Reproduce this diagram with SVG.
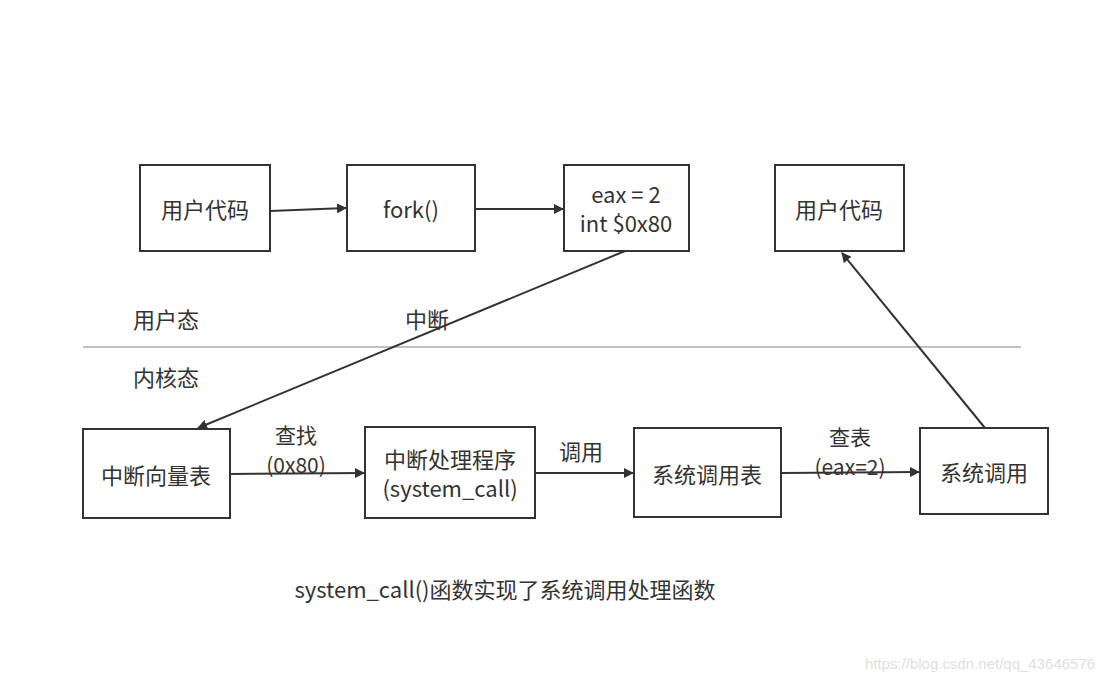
<svg xmlns="http://www.w3.org/2000/svg" width="1111" height="682" viewBox="0 0 1111 682">
<style>
.box{fill:#fff;stroke:#333;stroke-width:2}
.t{font-family:"Noto Sans CJK SC","Liberation Sans",sans-serif;font-size:22px;fill:#333;text-anchor:middle;dominant-baseline:central}
.s{font-size:21px}
.c{stroke:#333;stroke-width:2;fill:none;marker-end:url(#ah)}
</style>
<defs>
<marker id="ah" viewBox="0 0 10 10" refX="9" refY="5" markerWidth="5" markerHeight="5" orient="auto" markerUnits="strokeWidth">
<path d="M0,0 L10,5 L0,10 Z" fill="#333"/>
</marker>
</defs>
<rect width="1111" height="682" fill="#fff"/>
<line x1="83" y1="347" x2="1021" y2="347" stroke="#c0c0c0" stroke-width="2"/>
<g id="connectors">
<line class="c" x1="270" y1="211" x2="346" y2="208"/>
<line class="c" x1="475" y1="209" x2="563" y2="209"/>
<line class="c" x1="625" y1="251" x2="198" y2="428"/>
<line class="c" x1="230" y1="474" x2="364" y2="473"/>
<line class="c" x1="535" y1="473" x2="633" y2="473"/>
<line class="c" x1="781" y1="473" x2="919" y2="472"/>
<line class="c" x1="985" y1="428" x2="842" y2="253"/>
</g>
<g id="n1"><rect class="box" x="140" y="165" width="130" height="86"/><text class="t" x="205" y="208">用户代码</text></g>
<g id="n2"><rect class="box" x="347" y="165" width="128" height="86"/><text class="t" x="411" y="208">fork()</text></g>
<g id="n3"><rect class="box" x="564" y="165" width="125" height="86"/><text class="t" x="626" y="193">eax = 2</text><text class="t" x="626" y="222">int $0x80</text></g>
<g id="n4"><rect class="box" x="775" y="165" width="129" height="86"/><text class="t" x="839" y="208">用户代码</text></g>
<g id="n5"><rect class="box" x="83" y="429" width="147" height="89"/><text class="t" x="156" y="474">中断向量表</text></g>
<g id="n6"><rect class="box" x="365" y="427" width="170" height="91"/><text class="t" x="450" y="458">中断处理程序</text><text class="t" x="450" y="487">(system_call)</text></g>
<g id="n7"><rect class="box" x="634" y="428" width="147" height="89"/><text class="t" x="707" y="473">系统调用表</text></g>
<g id="n8"><rect class="box" x="920" y="428" width="128" height="86"/><text class="t" x="984" y="471">系统调用</text></g>
<g id="labels">
<text class="t" x="166" y="318">用户态</text>
<text class="t" x="427" y="318">中断</text>
<text class="t" x="166" y="376">内核态</text>
<text class="t s" x="296" y="434">查找</text>
<text class="t s" x="296" y="464">(0x80)</text>
<text class="t" x="581" y="450">调用</text>
<text class="t s" x="850" y="436">查表</text>
<text class="t s" x="850" y="466">(eax=2)</text>
<text class="t" x="505" y="588">system_call()函数实现了系统调用处理函数</text>
<text x="980" y="663" font-family="Liberation Sans, sans-serif" font-size="15" fill="#e0e0e0" text-anchor="middle" dominant-baseline="central">https://blog.csdn.net/qq_43646576</text>
</g>
</svg>
